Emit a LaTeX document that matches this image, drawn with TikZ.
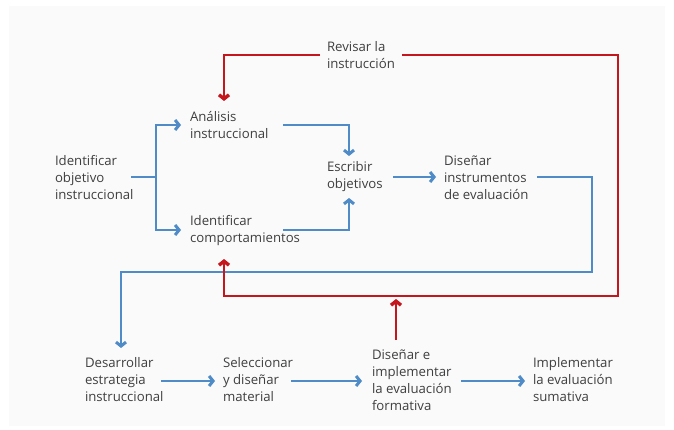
\documentclass[tikz,border=0pt]{standalone}
\usepackage{fontspec}
\setmainfont{Open Sans}
\usetikzlibrary{arrows.meta}
\definecolor{bgg}{HTML}{FAFAFA}
\definecolor{txt}{HTML}{3F3F3F}
\definecolor{bl}{HTML}{4F8BC6}
\definecolor{rd}{HTML}{C4161C}
\tikzset{
  lbl/.style={inner sep=0pt,outer sep=0pt,align=left,anchor=west,text=txt,font=\fontsize{13.2}{17}\selectfont},
  bline/.style={draw=bl,line width=1.8pt},
  barrow/.style={bline,-{Straight Barb[length=4pt,width=10pt,line width=3pt]}},
  rline/.style={draw=rd,line width=2pt},
  rarrow/.style={rline,-{Straight Barb[length=4pt,width=10pt,line width=3.4pt]}}
}
\begin{document}
\begin{tikzpicture}[x=1pt,y=-1pt]
\useasboundingbox (0,0) rectangle (674,430);
\fill[white] (0,0) rectangle (674,430);
\fill[bgg] (9,6) rectangle (665,426);

% text nodes
\node[lbl] (obj) at (55,178) {Identificar\\objetivo\\instruccional};
\node[lbl] (ana) at (190,125) {Análisis\\instruccional};
\node[lbl] (comp) at (190,231) {Identificar\\comportamientos};
\node[lbl] (esc) at (327,177) {Escribir\\objetivos};
\node[lbl] (dis) at (444,178) {Diseñar\\instrumentos\\de evaluación};
\node[lbl] (rev) at (327,55) {Revisar la\\instrucción};
\node[lbl] (des) at (85,380) {Desarrollar\\estrategia\\instruccional};
\node[lbl] (sel) at (223,380) {Seleccionar\\y diseñar\\material};
\node[lbl] (form) at (372,380) {Diseñar e\\implementar\\la evaluación\\formativa};
\node[lbl] (imp) at (533,380) {Implementar\\la evaluación\\sumativa};

% coordinates
\coordinate (split) at (156,177);
\coordinate (anaT) at (181,125);
\coordinate (compT) at (181,230);
\coordinate (escT) at (349,156);
\coordinate (escB) at (349,198);
\coordinate (disT) at (436,177);
\coordinate (disE) at (537,177);
\coordinate (desT) at (121,348);
\coordinate (r1) at (320,55);
\coordinate (r2) at (402,55);
\coordinate (anaR) at (224,101);
\coordinate (compR) at (224,259);
\coordinate (formS) at (396,340);
\coordinate (formT) at (396,299);

% blue connectors
\draw[bline] (131,177) -- (split);
\draw[barrow] (split) |- (anaT);
\draw[barrow] (split) |- (compT);
\draw[barrow] (283,125) -| (escT);
\draw[barrow] (283,230) -| (escB);
\draw[barrow] (393,177) -- (disT);
\draw[barrow] (disE) -- (592,177) -- (592,272) -- (121,272) -- (desT);
\draw[barrow] (161,381) -- (215,381);
\draw[barrow] (291,381) -- (362,381);
\draw[barrow] (461,381) -- (525,381);

% red connectors
\draw[rarrow] (r1) -| (anaR);
\draw[rarrow] (r2) -- (618,55) -- (618,296) -- (224,296) -- (compR);
\draw[rarrow] (formS) -- (formT);
\end{tikzpicture}
\end{document}
